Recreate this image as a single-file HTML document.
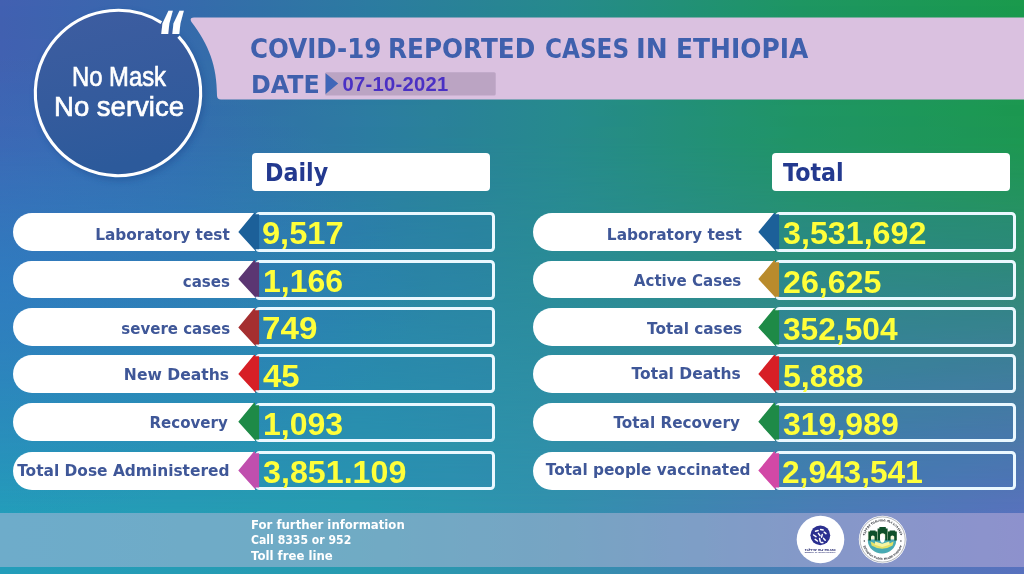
<!DOCTYPE html>
<html lang="en">
<head>
<meta charset="utf-8">
<title>COVID-19 Reported Cases in Ethiopia</title>
<style>
html,body{margin:0;padding:0;}
body{width:1024px;height:574px;overflow:hidden;position:relative;font-family:"Liberation Sans",sans-serif;font-weight:bold;background:#2a8a9a;}
.abs{position:absolute;}
#bgTop{left:0;top:0;width:1024px;height:574px;background:linear-gradient(to right,#4260b1 0%,#366aac 18%,#2c7ba1 36%,#268a8c 55%,#1e9662 78%,#1a9a4c 100%);}
#bgBot{left:0;top:0;width:1024px;height:574px;background:linear-gradient(to right,#239dba 0%,#279bb0 35%,#3290ae 55%,#4a7cb7 80%,#5871be 100%);-webkit-mask-image:linear-gradient(to bottom,rgba(0,0,0,0) 0%,rgba(0,0,0,0.05) 25%,rgba(0,0,0,0.3) 45%,rgba(0,0,0,0.7) 68%,rgba(0,0,0,1) 90%);mask-image:linear-gradient(to bottom,rgba(0,0,0,0) 0%,rgba(0,0,0,0.05) 25%,rgba(0,0,0,0.3) 45%,rgba(0,0,0,0.7) 68%,rgba(0,0,0,1) 90%);}
#bgLeft{left:0;top:0;width:1024px;height:574px;background:radial-gradient(ellipse 420px 230px at 0px 285px,rgba(42,128,200,0.55),rgba(42,128,200,0));}
#shapes{left:0;top:0;}
.t{position:absolute;white-space:nowrap;line-height:1;}
.dj{font-family:"DejaVu Sans","Liberation Sans",sans-serif;font-weight:bold;}
#title{left:250.6px;top:35.6px;font-size:26.2px;color:#3f60ad;width:600px;height:27px;}
.tw{position:absolute;left:0;top:0;line-height:1;transform-origin:0 50%;white-space:nowrap;}
#dateL{left:250.8px;top:73.2px;font-size:24.9px;color:#3f60ad;transform-origin:0 50%;transform:scaleX(0.955);}
#dateV{left:342.5px;top:73.6px;font-size:20.2px;color:#4a30c4;letter-spacing:0.28px;}
.hd{position:absolute;top:153px;height:38px;background:#fff;border-radius:4px;}
.hd span{position:absolute;left:13.2px;top:8px;font-size:24.7px;line-height:1;color:#23398f;transform-origin:0 50%;transform:scaleX(0.9);}
.pill{position:absolute;background:#fff;border-radius:19px 0 0 19px;}
.lab{position:absolute;line-height:1;font-size:16.3px;color:#3f5798;white-space:nowrap;transform-origin:100% 50%;font-family:"DejaVu Sans","Liberation Sans",sans-serif;}
.vbox{position:absolute;border:3.2px solid #eaf8ff;border-radius:4.5px;background:rgba(50,112,185,0.15);}
.val{position:absolute;font-size:31.4px;line-height:1;color:#ffff3a;white-space:nowrap;transform-origin:0 50%;}
#foot{left:0;top:513.3px;width:1024px;height:53.3px;background:rgba(222,196,228,0.40);}
.ft{position:absolute;left:250.5px;font-size:12.6px;line-height:1;color:#fff;white-space:nowrap;transform-origin:0 50%;transform:scaleX(0.93);font-family:"DejaVu Sans","Liberation Sans",sans-serif;}
.nm{position:absolute;left:19px;width:200px;text-align:center;font-weight:normal;font-size:27.5px;line-height:1;color:#fff;white-space:nowrap;-webkit-text-stroke:0.7px #fff;}
</style>
</head>
<body>
<div id="bgTop" class="abs"></div>
<div id="bgBot" class="abs"></div>
<div id="bgLeft" class="abs"></div>
<div id="foot" class="abs"></div>

<svg id="shapes" class="abs" width="1024" height="574" viewBox="0 0 1024 574">
  <!-- banner -->
  <path d="M194 17.5 H1024 V99.4 H221 Q217 99.4 217 95.4 C217 66 209 45 191.5 22 Q189 17.5 194 17.5 Z" fill="#dac1e0"/>
  <!-- date box -->
  <rect x="325" y="72.2" width="170.7" height="23.4" rx="1.5" fill="#bba4c3"/>
  <path d="M325.6 73.3 L338.2 83.6 L325.6 93.9 Z" fill="#3f66b8"/>
  <!-- circle -->
  <defs>
    <linearGradient id="cg" x1="0" y1="0" x2="0.25" y2="1"><stop offset="0" stop-color="#3e5da1"/><stop offset="0.55" stop-color="#355b9d"/><stop offset="1" stop-color="#2c5a9b"/></linearGradient>
    <filter id="cs" x="-20%" y="-20%" width="140%" height="140%"><feGaussianBlur stdDeviation="3"/></filter>
  </defs>
  <circle cx="120" cy="96" r="84.5" fill="#1d4a8e" opacity="0.45" filter="url(#cs)"/>
  <circle cx="118" cy="93" r="82.8" fill="url(#cg)"/>
  <circle cx="118" cy="93" r="82.7" fill="none" stroke="#fff" stroke-width="3.1" stroke-dasharray="496.5 23.1" transform="rotate(-43 118 93)"/>
  <text transform="translate(156.4 65.1) scale(1 1.78)" font-family="'DejaVu Sans','Liberation Sans',sans-serif" font-style="italic" font-weight="bold" font-size="42" fill="#fff">“</text>
  <!-- logo 1 : ministry of health -->
  <g>
    <circle cx="820.5" cy="539.5" r="23.8" fill="#fff"/>
    <circle cx="820.3" cy="535.3" r="9.9" fill="#2b2f8f"/>
    <g stroke="#fff" stroke-width="1.5" stroke-linecap="round" fill="none">
      <path d="M815.5 531.2 l2.6 -0.6 M820.6 529.6 l2.6 0.4 M824.2 532.2 l1.8 1.4"/>
      <path d="M813.6 535 l2.4 1.6 M818.4 533.4 l1.6 2.2 M822.2 534.6 l-0.6 2.6"/>
      <path d="M815.2 539.4 l2.2 1.6 M819.6 538.6 l0.6 2.8 M823.6 538.4 l1.6 1.8 M821 542.4 l1.8 0.2"/>
    </g>
    <text x="820.3" y="550.6" text-anchor="middle" font-family="'Liberation Sans','Noto Sans Ethiopic',sans-serif" font-weight="bold" font-size="3.1" fill="#23276e" textLength="31" lengthAdjust="spacingAndGlyphs">የኢትዮጵያ ጤና ሚኒስቴር</text>
    <text x="820.3" y="553.4" text-anchor="middle" font-family="'Liberation Sans',sans-serif" font-weight="bold" font-size="2.2" fill="#23276e" textLength="31" lengthAdjust="spacingAndGlyphs">MINISTRY OF HEALTH-ETHIOPIA</text>
  </g>
  <!-- logo 2 : ethiopian public health institute -->
  <g>
    <circle cx="882.6" cy="539.5" r="23.8" fill="#fff"/>
    <circle cx="882.6" cy="539.5" r="22.6" fill="none" stroke="#80848c" stroke-width="0.6"/>
    <defs>
      <path id="arcTop" d="M864.6 539.5 A18 18 0 0 1 900.6 539.5"/>
      <path id="arcBot" d="M862.2 539.5 A20.4 20.4 0 0 0 903 539.5"/>
    </defs>
    <text font-family="'Liberation Sans','Noto Sans Ethiopic',sans-serif" font-weight="bold" font-size="3.2" fill="#2c3038"><textPath href="#arcTop" startOffset="50%" text-anchor="middle">የኢትዮጵያ የህብረተሰብ ጤና ኢንስቲትዩት</textPath></text>
    <text font-family="'Liberation Sans',sans-serif" font-weight="bold" font-size="3.3" fill="#2c3038"><textPath href="#arcBot" startOffset="50%" text-anchor="middle">Ethiopian Public Health Institute</textPath></text>
    <circle cx="864.3" cy="541" r="0.7" fill="#2c3038"/><circle cx="900.9" cy="541" r="0.7" fill="#2c3038"/>
    <!-- shield -->
    <path d="M867.8 531 H896.2 V540 A14.2 13.6 0 0 1 867.8 540 Z" fill="#f3f6d8"/>
    <path d="M867.8 539.6 H896.2 V540 A14.2 13.6 0 0 1 867.8 540 Z" fill="#48aab4"/>
    <path d="M870.6 541.4 Q882 548.6 893.6 541.4 L892.6 545.4 Q882 552 871.6 545.4 Z" fill="#e4e267"/>
    <g fill="#0e4f2a">
      <path d="M868.4 531.6 h1.6 v-1.2 h5.6 v1.2 h1.6 v9 h-2.6 v-4.2 q-1.8 -1.8 -3.6 0 v4.2 h-2.6 Z"/>
      <path d="M877.6 528.4 h1.8 v-1.4 h6.4 v1.4 h1.8 v12.2 h-2.4 v-6 q-2.6 -2.6 -5.2 0 v6 h-2.4 Z"/>
      <path d="M888 531.6 h1.6 v-1.2 h5.6 v1.2 h1.6 v9 h-2.6 v-4.2 q-1.8 -1.8 -3.6 0 v4.2 h-2.6 Z"/>
    </g>
    <ellipse cx="882.4" cy="538.4" rx="2.3" ry="4.4" fill="#fff"/>
    <path d="M875.2 541.6 l7 2.2 l7 -2.2 l0.5 3.2 l-7.5 2.2 l-7.5 -2.2 Z" fill="#f6f4a2"/>
  </g>
</svg>

<div id="title" class="t dj"><span class="tw" style="left:-0.29px;transform:scaleX(0.9366);">COVID-19</span> <span class="tw" style="left:137.81px;transform:scaleX(0.9442);">REPORTED</span> <span class="tw" style="left:294.12px;transform:scaleX(0.8847);">CASES</span> <span class="tw" style="left:385.50px;transform:scaleX(1.0020);">IN</span> <span class="tw" style="left:425.15px;transform:scaleX(0.9523);">ETHIOPIA</span></div>
<div id="dateL" class="t dj">DATE</div>
<div class="nm" style="top:62.5px;transform:scaleX(0.865);">No Mask</div>
<div class="nm" style="top:93.4px;transform:scaleX(1.0);">No service</div>
<div id="dateV" class="t">07-10-2021</div>

<div class="hd" style="left:252px;width:238px;"><span class="dj">Daily</span></div>
<div class="hd" style="left:772px;width:238px;"><span class="dj" style="left:11.4px;top:7.7px;">Total</span></div>

<div id="rows">
<div class="pill" style="left:13px;top:213.1px;width:242px;height:38.1px;"></div>
<div class="lab" style="right:794.60px;top:227px;transform:scaleX(0.9429);">Laboratory test</div>
<div class="vbox" style="left:254.9px;top:211.6px;width:234.3px;height:34.5px;"></div>
<svg class="abs" style="left:236px;top:211.3px;" width="26" height="41.5" viewBox="0 0 26 41.5"><path d="M2.3 20.9 L18.0 1.9 L19.0 1.9 L19.0 3.3 L23.1 3.3 L23.1 38.2 L19.4 38.2 L19.4 39.7 Z" fill="#1c6099"/></svg>
<div class="val" style="left:262.06px;top:218px;transform:scaleX(1.0377);">9,517</div>
<div class="pill" style="left:13px;top:260.6px;width:242px;height:37.6px;"></div>
<div class="lab" style="right:793.76px;top:274px;transform:scaleX(0.9271);">cases</div>
<div class="vbox" style="left:254.9px;top:259.7px;width:234.3px;height:34.1px;"></div>
<svg class="abs" style="left:236px;top:259.4px;" width="26" height="41.1" viewBox="0 0 26 41.1"><path d="M2.3 20.1 L18.0 1.3 L19.0 1.3 L19.0 3.3 L23.1 3.3 L23.1 37.8 L19.4 37.8 L19.4 38.6 Z" fill="#5b3672"/></svg>
<div class="val" style="left:263.48px;top:266px;transform:scaleX(1.0195);">1,166</div>
<div class="pill" style="left:13px;top:308.2px;width:242px;height:37.8px;"></div>
<div class="lab" style="right:793.96px;top:321px;transform:scaleX(0.9209);">severe cases</div>
<div class="vbox" style="left:254.9px;top:307.0px;width:234.3px;height:33.7px;"></div>
<svg class="abs" style="left:236px;top:306.7px;" width="26" height="40.7" viewBox="0 0 26 40.7"><path d="M2.3 20.5 L18.0 1.6 L19.0 1.6 L19.0 3.3 L23.1 3.3 L23.1 37.4 L19.4 37.4 L19.4 39.1 Z" fill="#a52f30"/></svg>
<div class="val" style="left:262.04px;top:313px;transform:scaleX(1.0566);">749</div>
<div class="pill" style="left:13px;top:355.4px;width:242px;height:37.7px;"></div>
<div class="lab" style="right:794.64px;top:367px;transform:scaleX(0.9557);">New Deaths</div>
<div class="vbox" style="left:254.9px;top:353.7px;width:234.3px;height:33.6px;"></div>
<svg class="abs" style="left:236px;top:353.4px;" width="26" height="40.6" viewBox="0 0 26 40.6"><path d="M2.3 21.0 L18.0 2.1 L19.0 2.1 L19.0 3.3 L23.1 3.3 L23.1 37.3 L19.4 37.3 L19.4 39.5 Z" fill="#d71f26"/></svg>
<div class="val" style="left:262.70px;top:361px;transform:scaleX(1.0477);">45</div>
<div class="pill" style="left:13px;top:402.9px;width:242px;height:38.3px;"></div>
<div class="lab" style="right:796.16px;top:415px;transform:scaleX(0.9239);">Recovery</div>
<div class="vbox" style="left:254.9px;top:402.6px;width:234.3px;height:33.8px;"></div>
<svg class="abs" style="left:236px;top:402.3px;" width="26" height="40.8" viewBox="0 0 26 40.8"><path d="M2.3 19.8 L18.0 0.7 L19.0 0.7 L19.0 3.3 L23.1 3.3 L23.1 37.5 L19.4 37.5 L19.4 38.7 Z" fill="#1e8a47"/></svg>
<div class="val" style="left:263.48px;top:409px;transform:scaleX(1.0195);">1,093</div>
<div class="pill" style="left:13px;top:451.6px;width:242px;height:38.2px;"></div>
<div class="lab" style="right:794.88px;top:463px;transform:scaleX(0.9459);">Total Dose Administered</div>
<div class="vbox" style="left:254.9px;top:450.5px;width:234.3px;height:33.9px;"></div>
<svg class="abs" style="left:236px;top:450.2px;" width="26" height="40.9" viewBox="0 0 26 40.9"><path d="M2.3 20.6 L18.0 1.5 L19.0 1.5 L19.0 3.3 L23.1 3.3 L23.1 37.6 L19.4 37.6 L19.4 39.4 Z" fill="#c04fae"/></svg>
<div class="val" style="left:263.10px;top:457px;transform:scaleX(1.0267);">3,851.109</div>
<div class="pill" style="left:533px;top:213.1px;width:242px;height:38.1px;"></div>
<div class="lab" style="right:282.61px;top:227px;transform:scaleX(0.9450);">Laboratory test</div>
<div class="vbox" style="left:774.9px;top:211.6px;width:234.9px;height:34.5px;"></div>
<svg class="abs" style="left:756px;top:211.3px;" width="26" height="41.5" viewBox="0 0 26 41.5"><path d="M2.3 20.9 L18.0 1.9 L19.0 1.9 L19.0 3.3 L23.1 3.3 L23.1 38.2 L19.4 38.2 L19.4 39.7 Z" fill="#1c6099"/></svg>
<div class="val" style="left:783.40px;top:218px;transform:scaleX(1.0267);">3,531,692</div>
<div class="pill" style="left:533px;top:260.6px;width:242px;height:37.6px;"></div>
<div class="lab" style="right:282.26px;top:273px;transform:scaleX(0.9238);">Active Cases</div>
<div class="vbox" style="left:774.9px;top:259.7px;width:234.9px;height:34.1px;"></div>
<svg class="abs" style="left:756px;top:259.4px;" width="26" height="41.1" viewBox="0 0 26 41.1"><path d="M2.3 20.1 L18.0 1.3 L19.0 1.3 L19.0 3.3 L23.1 3.3 L23.1 37.8 L19.4 37.8 L19.4 38.6 Z" fill="#b98b2c"/></svg>
<div class="val" style="left:782.68px;top:267px;transform:scaleX(1.0248);">26,625</div>
<div class="pill" style="left:533px;top:308.2px;width:242px;height:37.8px;"></div>
<div class="lab" style="right:282.25px;top:321px;transform:scaleX(0.9401);">Total cases</div>
<div class="vbox" style="left:774.9px;top:307.0px;width:234.9px;height:33.7px;"></div>
<svg class="abs" style="left:756px;top:306.7px;" width="26" height="40.7" viewBox="0 0 26 40.7"><path d="M2.3 20.5 L18.0 1.6 L19.0 1.6 L19.0 3.3 L23.1 3.3 L23.1 37.4 L19.4 37.4 L19.4 39.1 Z" fill="#1e8a47"/></svg>
<div class="val" style="left:783.40px;top:314px;transform:scaleX(1.0095);">352,504</div>
<div class="pill" style="left:533px;top:355.4px;width:242px;height:37.7px;"></div>
<div class="lab" style="right:283.14px;top:366px;transform:scaleX(0.9512);">Total Deaths</div>
<div class="vbox" style="left:774.9px;top:353.7px;width:234.9px;height:33.6px;"></div>
<svg class="abs" style="left:756px;top:353.4px;" width="26" height="40.6" viewBox="0 0 26 40.6"><path d="M2.3 21.0 L18.0 2.1 L19.0 2.1 L19.0 3.3 L23.1 3.3 L23.1 37.3 L19.4 37.3 L19.4 39.5 Z" fill="#d71f26"/></svg>
<div class="val" style="left:783.40px;top:361px;transform:scaleX(1.0231);">5,888</div>
<div class="pill" style="left:533px;top:402.9px;width:242px;height:38.3px;"></div>
<div class="lab" style="right:283.86px;top:415px;transform:scaleX(0.9375);">Total Recovery</div>
<div class="vbox" style="left:774.9px;top:402.6px;width:234.9px;height:33.8px;"></div>
<svg class="abs" style="left:756px;top:402.3px;" width="26" height="40.8" viewBox="0 0 26 40.8"><path d="M2.3 19.8 L18.0 0.7 L19.0 0.7 L19.0 3.3 L23.1 3.3 L23.1 37.5 L19.4 37.5 L19.4 38.7 Z" fill="#1e8a47"/></svg>
<div class="val" style="left:783.40px;top:409px;transform:scaleX(1.0203);">319,989</div>
<div class="pill" style="left:533px;top:451.6px;width:242px;height:38.2px;"></div>
<div class="lab" style="right:273.18px;top:462px;transform:scaleX(0.9412);">Total people vaccinated</div>
<div class="vbox" style="left:774.9px;top:450.5px;width:234.9px;height:33.9px;"></div>
<svg class="abs" style="left:756px;top:450.2px;" width="26" height="40.9" viewBox="0 0 26 40.9"><path d="M2.3 20.6 L18.0 1.5 L19.0 1.5 L19.0 3.3 L23.1 3.3 L23.1 37.6 L19.4 37.6 L19.4 39.4 Z" fill="#d248a6"/></svg>
<div class="val" style="left:782.39px;top:457px;transform:scaleX(1.0080);">2,943,541</div>
</div>

<div class="ft" style="top:518.7px;">For further information</div>
<div class="ft" style="top:533.6px;transform:scaleX(0.866);">Call 8335 or 952</div>
<div class="ft" style="top:549.5px;">Toll free line</div>
</body>
</html>
